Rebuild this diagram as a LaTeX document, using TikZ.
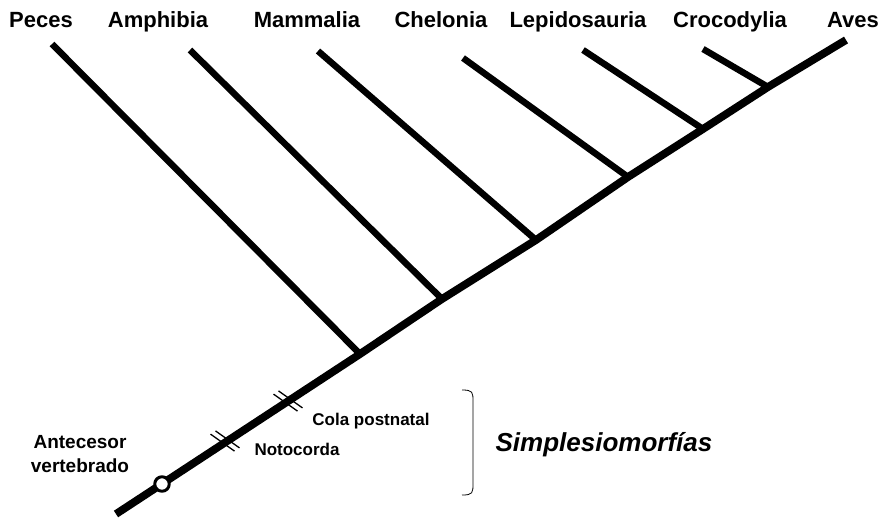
\documentclass[tikz,border=0pt]{standalone}
\usepackage{fontspec}
\setmainfont{Liberation Sans}
\usetikzlibrary{calc}
\begin{document}
\begin{tikzpicture}[x=1pt, y=-1pt, line join=round,
	taxon/.style={font=\fontsize{22}{26}\selectfont\bfseries, anchor=base, inner sep=0pt},
	rasgo/.style={font=\fontsize{17}{20}\selectfont\bfseries, anchor=base, inner sep=0pt},
	rama/.style={line width=6.5pt},
	marca/.style={line width=1.3pt}]
	\useasboundingbox (0,0) rectangle (880,517);
	% grupos
	\foreach \x/\t/\n in {41/Peces/pec, 158/Amphibia/amp, 307/Mammalia/mam, 441/Chelonia/che, 578/Lepidosauria/lep, 730/Crocodylia/cro, 853/Aves/ave}
		\node[taxon] (\n) at (\x,27) {\t};
	% ramas
	\coordinate (raiz) at (116,514);
	\coordinate (tope) at (846,40);
	\foreach \n/\a/\b/\c/\d in {pec/52/44/360/354, amp/190/50/442/299, mam/318/51/536/240, che/463/58/628/177, lep/583/50/703/129, cro/703/49/768/87}
	{
		\coordinate (t\n) at (\a,\b);
		\coordinate (n\n) at (\c,\d);
	}
	\draw[rama] (tpec)--(npec) (tamp)--(namp) (tmam)--(nmam)
		(tche)--(nche) (tlep)--(nlep) (tcro)--(ncro);
	\draw[line width=7.8pt] (raiz)--(npec)--(namp)--(nmam)--(nche)--(nlep)--(ncro)--(tope);
	% caracteres
	\coordinate (noto) at (225,441);
	\coordinate (cola) at (288,401);
	\foreach \p in {noto, cola}
		\draw[marca] ($(\p)+(2.5,-1.6)$) +(-12,-8.5) -- +(12,8.5)
			($(\p)+(-2.5,1.6)$) +(-12,-8.5) -- +(12,8.5);
	\node[circle, draw, fill=white, line width=3pt, minimum size=14.5pt, inner sep=0pt] (ancestro) at (162,484) {};
	\node[font=\fontsize{19}{24}\selectfont\bfseries, align=center, inner sep=0pt] (antecesor) at (80,454) {Antecesor\\vertebrado};
	\node[rasgo] (notocorda) at (297,455) {Notocorda};
	\node[rasgo] (colapost) at (371,425) {Cola postnatal};
	\draw[line width=0.8pt] (462,390) .. controls (473,390) and (473,392) .. (473,402)
		-- (473,483) .. controls (473,493) and (473,495) .. (462,495);
	\node[font=\fontsize{26}{30}\selectfont\bfseries\itshape, anchor=base] (simple) at (604,451) {Simplesiomorfías};
\end{tikzpicture}
\end{document}
